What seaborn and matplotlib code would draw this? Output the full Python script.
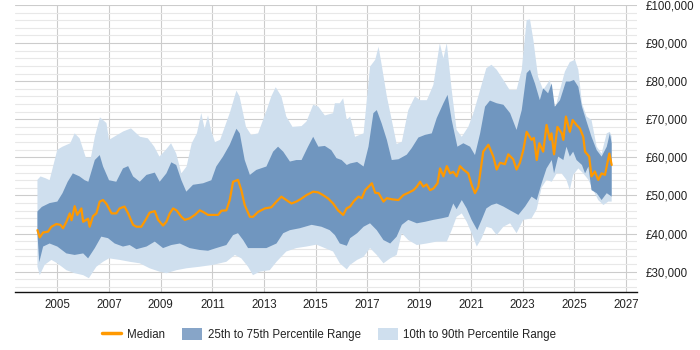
import numpy as np
import pandas as pd
import matplotlib
matplotlib.use("Agg")
import matplotlib.pyplot as plt
import matplotlib.ticker as mticker
from matplotlib.patches import Patch
from matplotlib.lines import Line2D
import seaborn as sns

# salary percentiles in £k
p90_years = [2004.23, 2004.35, 2004.55, 2004.7, 2005.0, 2005.2, 2005.5, 2005.67, 2005.86, 2006.1,
             2006.3, 2006.45, 2006.65, 2006.9, 2007.0, 2007.2, 2007.55, 2007.85, 2008.2, 2008.5,
             2008.75, 2008.95, 2009.2, 2009.4, 2009.6, 2009.8, 2010.0, 2010.2, 2010.4, 2010.57,
             2010.7, 2010.83, 2010.95, 2011.1, 2011.3, 2011.67, 2011.93, 2012.05, 2012.3, 2012.5,
             2012.77, 2013.1, 2013.28, 2013.45, 2013.67, 2013.86, 2014.1, 2014.45, 2014.64, 2014.9,
             2015.1, 2015.35, 2015.67, 2015.74, 2015.93, 2016.06, 2016.2, 2016.33, 2016.52, 2016.85,
             2017.1, 2017.3, 2017.43, 2017.55, 2017.75, 2017.94, 2018.13, 2018.33, 2018.58, 2018.84,
             2019.04, 2019.3, 2019.55, 2019.8, 2019.94, 2020.07, 2020.26, 2020.45, 2020.65, 2020.9,
             2021.1, 2021.36, 2021.6, 2021.8, 2022.0, 2022.26, 2022.5, 2022.77, 2022.97, 2023.16,
             2023.29, 2023.42, 2023.6, 2023.8, 2024.06, 2024.25, 2024.45, 2024.64, 2024.83, 2025.03,
             2025.16, 2025.3, 2025.48, 2025.67, 2025.87, 2026.06, 2026.26, 2026.38, 2026.45]
p90_vals = [54.1, 55.0, 54.5, 54.0, 62.0, 62.8, 63.7, 66.3, 65.0, 60.0,
            60.0, 65.4, 70.5, 69.0, 64.6, 65.4, 66.8, 67.6, 65.4, 65.0,
            62.8, 60.2, 62.0, 63.7, 61.0, 55.8, 57.6, 63.7, 66.3, 71.6,
            67.5, 71.0, 67.0, 64.0, 64.6, 71.6, 77.5, 76.0, 68.0, 65.9,
            66.3, 72.4, 76.0, 78.4, 76.0, 70.7, 68.0, 68.2, 69.4, 73.8,
            73.3, 71.0, 71.6, 74.2, 74.2, 75.5, 69.8, 70.7, 65.4, 66.3,
            83.8, 85.6, 89.0, 84.3, 76.0, 69.8, 63.5, 64.1, 72.4, 76.0,
            75.0, 75.0, 79.0, 89.9, 86.0, 90.0, 77.7, 67.2, 65.4, 68.0,
            71.6, 77.7, 83.4, 84.3, 83.0, 80.3, 77.7, 77.7, 83.0, 96.0,
            96.2, 90.8, 81.2, 77.7, 80.3, 72.4, 77.7, 82.5, 85.0, 85.6,
            83.0, 74.2, 70.7, 69.8, 62.8, 61.0, 66.3, 66.7, 65.4]

p75_years = [2004.23, 2004.4, 2004.7, 2005.0, 2005.2, 2005.4, 2005.6, 2005.86, 2006.06, 2006.2,
             2006.45, 2006.64, 2006.77, 2007.0, 2007.28, 2007.54, 2007.74, 2007.93, 2008.19, 2008.45,
             2008.77, 2008.96, 2009.22, 2009.41, 2009.6, 2009.8, 2009.99, 2010.25, 2010.64, 2010.96,
             2011.15, 2011.41, 2011.67, 2011.93, 2012.06, 2012.25, 2012.45, 2012.7, 2013.09, 2013.35,
             2013.54, 2013.74, 2014.0, 2014.25, 2014.45, 2014.7, 2014.9, 2015.1, 2015.35, 2015.6,
             2015.8, 2016.0, 2016.2, 2016.33, 2016.6, 2016.85, 2017.04, 2017.23, 2017.36, 2017.55,
             2017.75, 2017.94, 2018.2, 2018.52, 2018.71, 2018.97, 2019.23, 2019.49, 2019.68, 2019.94,
             2020.1, 2020.26, 2020.48, 2020.71, 2020.97, 2021.16, 2021.36, 2021.55, 2021.74, 2022.0,
             2022.26, 2022.52, 2022.77, 2022.97, 2023.16, 2023.29, 2023.48, 2023.67, 2023.8, 2023.99,
             2024.13, 2024.25, 2024.45, 2024.68, 2024.83, 2024.99, 2025.16, 2025.3, 2025.48, 2025.67,
             2025.87, 2026.06, 2026.26, 2026.38, 2026.45]
p75_vals = [45.8, 47.0, 48.0, 48.4, 50.6, 53.6, 55.8, 55.0, 54.0, 53.6,
            59.3, 60.6, 57.6, 54.0, 53.6, 57.1, 57.7, 55.0, 53.6, 55.4,
            56.0, 53.6, 55.8, 58.7, 58.0, 54.0, 51.0, 52.8, 53.2, 54.0,
            57.6, 60.2, 63.3, 67.5, 66.3, 59.3, 55.4, 56.7, 57.6, 61.5,
            62.8, 61.5, 58.9, 59.3, 59.3, 62.8, 65.4, 62.8, 63.0, 61.9,
            59.8, 59.3, 58.0, 58.4, 58.8, 57.6, 62.8, 71.6, 72.4, 68.9,
            64.6, 59.3, 59.5, 60.7, 62.4, 65.2, 65.9, 66.3, 70.3, 74.2,
            76.4, 69.8, 62.8, 63.7, 62.8, 60.6, 66.3, 73.3, 74.9, 74.2,
            73.8, 71.6, 67.2, 72.4, 82.1, 83.0, 79.4, 75.0, 78.1, 76.8,
            79.4, 73.3, 75.0, 79.9, 79.9, 80.3, 78.5, 73.3, 69.4, 65.4,
            61.9, 60.2, 62.8, 66.3, 63.7]

med_years = [2004.23, 2004.32, 2004.45, 2004.64, 2004.77, 2004.96, 2005.12, 2005.22, 2005.35, 2005.48,
             2005.55, 2005.67, 2005.77, 2005.93, 2006.0, 2006.19, 2006.25, 2006.38, 2006.51, 2006.64,
             2006.77, 2006.9, 2007.1, 2007.28, 2007.41, 2007.6, 2007.74, 2007.93, 2008.06, 2008.25,
             2008.45, 2008.57, 2008.77, 2008.9, 2009.09, 2009.22, 2009.35, 2009.48, 2009.61, 2009.8,
             2009.93, 2010.12, 2010.32, 2010.51, 2010.64, 2010.83, 2011.03, 2011.22, 2011.35, 2011.54,
             2011.67, 2011.8, 2011.99, 2012.12, 2012.25, 2012.45, 2012.57, 2012.77, 2013.03, 2013.28,
             2013.48, 2013.67, 2013.86, 2014.06, 2014.25, 2014.45, 2014.64, 2014.9, 2015.1, 2015.28,
             2015.48, 2015.67, 2015.86, 2016.06, 2016.19, 2016.33, 2016.46, 2016.65, 2016.78, 2016.91,
             2017.04, 2017.17, 2017.3, 2017.43, 2017.62, 2017.75, 2017.94, 2018.2, 2018.39, 2018.58,
             2018.78, 2018.91, 2019.04, 2019.16, 2019.29, 2019.42, 2019.55, 2019.71, 2019.81, 2019.94,
             2020.07, 2020.2, 2020.32, 2020.45, 2020.58, 2020.71, 2020.9, 2021.03, 2021.16, 2021.29,
             2021.48, 2021.68, 2021.87, 2022.0, 2022.13, 2022.32, 2022.45, 2022.64, 2022.77, 2022.9,
             2023.03, 2023.16, 2023.35, 2023.44, 2023.55, 2023.65, 2023.8, 2023.93, 2024.06, 2024.12,
             2024.22, 2024.35, 2024.52, 2024.58, 2024.68, 2024.83, 2024.94, 2025.09, 2025.22, 2025.35,
             2025.42, 2025.58, 2025.67, 2025.8, 2025.93, 2026.06, 2026.19, 2026.36, 2026.45]
med_vals = [40.9, 39.0, 40.3, 40.5, 41.8, 42.5, 42.3, 41.4, 43.1, 45.3,
            43.5, 47.2, 44.9, 46.6, 43.1, 43.9, 41.8, 44.6, 45.3, 48.4,
            48.8, 47.8, 45.3, 45.3, 46.6, 47.1, 45.3, 42.3, 41.8, 41.8,
            44.0, 45.5, 45.9, 43.6, 42.1, 43.1, 45.3, 46.6, 46.1, 44.4,
            43.6, 44.0, 44.9, 46.1, 45.7, 44.9, 44.9, 44.9, 46.0, 46.1,
            48.8, 53.6, 54.1, 51.4, 47.5, 44.4, 44.4, 45.7, 46.6, 46.9,
            48.4, 49.7, 48.8, 47.9, 48.4, 49.2, 50.1, 51.0, 50.8, 50.1,
            49.2, 47.9, 46.1, 44.9, 46.6, 47.1, 48.4, 49.7, 49.3, 51.4,
            52.3, 53.2, 50.7, 50.6, 48.4, 49.3, 49.0, 48.8, 50.1, 50.7,
            51.4, 52.3, 53.6, 52.3, 52.9, 51.4, 51.8, 53.2, 57.1, 55.0,
            57.7, 55.8, 56.2, 55.0, 57.7, 56.8, 55.8, 52.8, 50.6, 52.3,
            61.5, 63.3, 60.2, 56.8, 58.6, 58.2, 60.8, 59.5, 56.8, 58.6,
            61.9, 66.7, 64.6, 65.1, 59.3, 63.7, 61.5, 68.5, 64.6, 66.3,
            60.8, 68.0, 66.3, 64.6, 70.7, 66.7, 69.8, 68.5, 67.6, 65.4,
            61.5, 60.2, 55.0, 56.3, 54.1, 55.8, 55.4, 61.0, 58.0]

p25_years = [2004.23, 2004.3, 2004.45, 2004.7, 2005.0, 2005.35, 2005.67, 2006.0, 2006.19, 2006.45,
             2006.7, 2006.96, 2007.22, 2007.54, 2007.8, 2008.06, 2008.45, 2008.77, 2009.09, 2009.41,
             2009.74, 2010.12, 2010.51, 2010.83, 2011.15, 2011.54, 2011.8, 2011.99, 2012.19, 2012.38,
             2012.7, 2013.09, 2013.48, 2013.74, 2014.0, 2014.38, 2014.84, 2015.22, 2015.54, 2015.74,
             2015.93, 2016.2, 2016.33, 2016.6, 2016.85, 2017.1, 2017.36, 2017.62, 2017.88, 2018.13,
             2018.33, 2018.58, 2018.91, 2019.23, 2019.55, 2019.87, 2020.13, 2020.32, 2020.45, 2020.65,
             2020.84, 2021.03, 2021.25, 2021.42, 2021.6, 2021.8, 2022.0, 2022.26, 2022.52, 2022.84,
             2023.1, 2023.35, 2023.55, 2023.74, 2023.93, 2024.13, 2024.22, 2024.38, 2024.58, 2024.7,
             2024.83, 2024.96, 2025.09, 2025.3, 2025.42, 2025.55, 2025.67, 2025.87, 2026.06, 2026.26,
             2026.45]
p25_vals = [40.0, 32.5, 36.6, 37.4, 36.6, 34.8, 34.4, 34.8, 33.5, 36.2,
            39.2, 38.8, 37.4, 36.6, 37.0, 35.9, 36.6, 37.9, 36.2, 37.0,
            37.4, 36.2, 35.7, 35.5, 36.2, 37.0, 39.6, 40.1, 38.3, 36.2,
            36.2, 36.2, 37.4, 40.1, 40.9, 41.4, 42.3, 41.8, 40.9, 39.6,
            37.4, 36.8, 38.8, 40.1, 41.8, 42.7, 40.9, 38.3, 37.4, 39.2,
            42.3, 43.6, 42.7, 43.1, 43.6, 44.0, 44.4, 47.9, 46.4, 48.8,
            46.6, 43.6, 40.9, 43.6, 46.6, 47.5, 47.9, 47.1, 46.1, 44.9,
            47.1, 49.7, 48.8, 53.2, 57.1, 59.3, 55.8, 60.2, 59.3, 62.8,
            60.2, 61.5, 59.3, 58.0, 55.8, 57.6, 51.4, 50.6, 48.8, 50.6,
            49.7]

p10_years = [2004.23, 2004.32, 2004.51, 2004.77, 2005.0, 2005.35, 2005.67, 2006.0, 2006.22, 2006.51,
             2006.77, 2007.0, 2007.41, 2007.8, 2008.19, 2008.57, 2008.96, 2009.22, 2009.61, 2010.0,
             2010.51, 2011.03, 2011.54, 2011.87, 2012.12, 2012.38, 2012.57, 2012.83, 2013.22, 2013.48,
             2013.86, 2014.25, 2014.64, 2015.03, 2015.35, 2015.67, 2015.93, 2016.2, 2016.33, 2016.6,
             2016.85, 2017.1, 2017.36, 2017.62, 2017.88, 2018.13, 2018.33, 2018.58, 2018.91, 2019.29,
             2019.68, 2020.07, 2020.26, 2020.45, 2020.65, 2020.84, 2021.03, 2021.23, 2021.42, 2021.6,
             2021.8, 2022.0, 2022.26, 2022.52, 2022.77, 2023.03, 2023.35, 2023.55, 2023.74, 2023.93,
             2024.13, 2024.32, 2024.51, 2024.7, 2024.83, 2024.96, 2025.16, 2025.35, 2025.55, 2025.74,
             2025.93, 2026.13, 2026.32, 2026.45]
p10_vals = [31.3, 29.1, 31.8, 33.1, 32.2, 30.4, 29.6, 29.1, 28.3, 31.3,
            32.6, 33.5, 33.1, 32.6, 32.2, 30.9, 30.0, 29.6, 30.4, 30.9,
            31.3, 31.8, 32.6, 34.4, 33.5, 31.3, 29.1, 30.0, 30.4, 32.6,
            35.3, 36.2, 36.6, 37.1, 36.2, 35.3, 32.2, 30.6, 31.8, 33.1,
            33.9, 36.2, 34.4, 32.2, 33.5, 34.4, 40.1, 38.3, 37.0, 37.4,
            37.9, 37.9, 40.9, 44.4, 45.3, 43.1, 40.1, 36.6, 38.8, 41.8,
            41.4, 39.6, 41.8, 42.7, 40.1, 43.6, 44.0, 46.4, 52.1, 54.1,
            53.6, 55.8, 55.8, 54.1, 51.4, 55.4, 57.1, 55.8, 54.1, 51.4,
            48.8, 47.5, 48.4, 48.4]

light_blue = "#cfdfee"
dark_blue = "#7096bf"
orange = "#ff9900"

sns.set_style("white")
plt.rcParams["font.family"] = ["Liberation Sans", "DejaVu Sans"]

fig = plt.figure(figsize=(7, 3.5), dpi=100)
ax = fig.add_axes([0.021, 0.166, 0.889, 0.82])

k = 1000.0
ax.fill(np.r_[p90_years, p10_years[::-1]], np.r_[p90_vals, p10_vals[::-1]] * k,
        color=light_blue, lw=0, zorder=2)
ax.fill(np.r_[p75_years, p25_years[::-1]], np.r_[p75_vals, p25_vals[::-1]] * k,
        color=dark_blue, lw=0, zorder=3)

med = pd.DataFrame({"year": med_years, "salary": np.array(med_vals) * k})
sns.lineplot(data=med, x="year", y="salary", color=orange, lw=1.6, ax=ax, zorder=4)

ax.set_xlim(2003.35, 2027.43)
ax.set_ylim(24700, 100000)
ax.xaxis.set_major_locator(mticker.FixedLocator(range(2005, 2028, 2)))
ax.yaxis.set_major_locator(mticker.MultipleLocator(10000))
ax.yaxis.set_minor_locator(mticker.MultipleLocator(2000))
ax.yaxis.set_major_formatter(mticker.FuncFormatter(lambda v, p: f"£{v:,.0f}"))
ax.yaxis.tick_right()
ax.grid(axis="y", which="minor", color="#e8e8e8", lw=0.8, zorder=0)
ax.grid(axis="y", which="major", color="#cccccc", lw=0.8, zorder=0)
ax.grid(axis="x", which="major", color="#cccccc", lw=0.8, zorder=0)
ax.set_axisbelow(True)
ax.set_xlabel("")
ax.set_ylabel("")
for s in ["top", "left", "right"]:
    ax.spines[s].set_visible(False)
ax.spines["bottom"].set_color("#111111")
ax.spines["bottom"].set_linewidth(1.0)
ax.tick_params(axis="x", length=3, width=0.8, color="#111111", labelsize=8.3, labelcolor="#222222", pad=2)
ax.tick_params(axis="y", which="both", length=0, labelsize=8.3, labelcolor="#222222", pad=6)

handles = [Line2D([0], [0], color=orange, lw=2.5),
           Patch(facecolor="#87a5c8", edgecolor="none"),
           Patch(facecolor=light_blue, edgecolor="none")]
labels = ["Median", "25th to 75th Percentile Range", "10th to 90th Percentile Range"]
fig.legend(handles, labels, loc="center", bbox_to_anchor=(0.47, 0.045), ncol=3, frameon=False,
           fontsize=8.3, handlelength=1.7, handleheight=1.2, columnspacing=1.5, handletextpad=0.5,
           labelcolor="#222222")

fig.savefig("out.png", dpi=100)
